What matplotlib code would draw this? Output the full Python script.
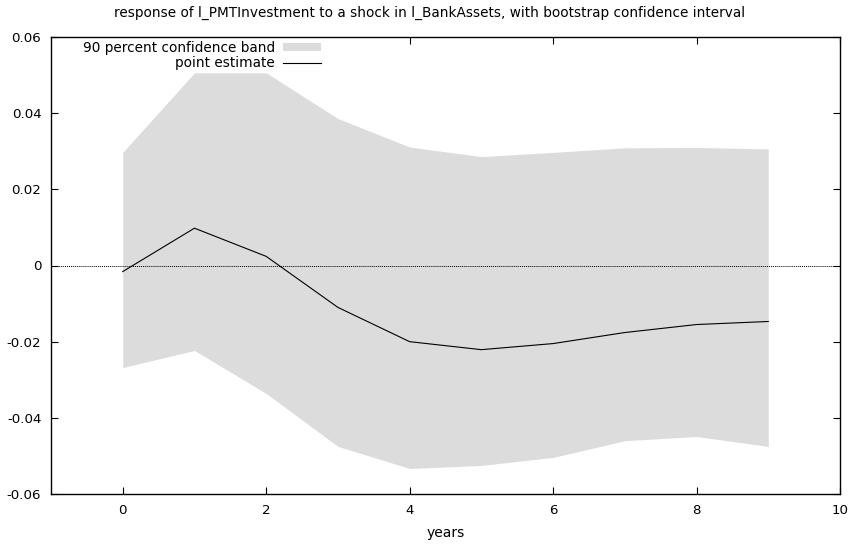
import matplotlib
matplotlib.use("Agg")
import matplotlib.pyplot as plt
from matplotlib.patches import Patch
from matplotlib.lines import Line2D
from matplotlib.ticker import FuncFormatter

# impulse response horizon and bootstrap results
years = [0, 1, 2, 3, 4, 5, 6, 7, 8, 9]
point_estimate = [-0.0016, 0.0098, 0.0024, -0.0110, -0.0200, -0.0221,
                  -0.0205, -0.0176, -0.0155, -0.0147]
band_upper = [0.0297, 0.0506, 0.0506, 0.0386, 0.0311, 0.0286,
              0.0297, 0.0309, 0.0310, 0.0306]
band_lower = [-0.0268, -0.0223, -0.0336, -0.0475, -0.0533, -0.0525,
              -0.0504, -0.0460, -0.0449, -0.0475]

title = "response of l_PMTInvestment to a shock in l_BankAssets, with bootstrap confidence interval"

plt.rcParams['axes.unicode_minus'] = False
plt.rcParams['font.family'] = 'DejaVu Sans'

fig = plt.figure(figsize=(8.59, 5.47), dpi=100)
ax = fig.add_axes([51/859, 53/547, 789/859, 457/547])

band_col = '#dcdcdc'
ax.fill_between(years, band_lower, band_upper, color=band_col, linewidth=0, zorder=1)
ax.plot(years, point_estimate, color='black', linewidth=0.8, zorder=3)
ax.axhline(0, color='black', linewidth=0.7, linestyle=(0, (1, 1)), zorder=2)

ax.set_xlim(-1, 10)
ax.set_ylim(-0.06, 0.06)
ax.set_xticks([0, 2, 4, 6, 8, 10])
ax.set_yticks([-0.06, -0.04, -0.02, 0, 0.02, 0.04, 0.06])
ax.yaxis.set_major_formatter(FuncFormatter(lambda v, p: '%g' % round(v, 4)))
ax.tick_params(direction='in', length=5, width=0.8, top=True, right=True,
               labelsize=9.6, pad=7)
for s in ax.spines.values():
    s.set_linewidth(1.0)
    s.set_zorder(6)

ax.set_xlabel('years', fontsize=10, labelpad=7)
fig.text(0.5, 1 - 13/547, title, ha='center', va='center', fontsize=9.8)

# gnuplot-style key: text on the left, sample on the right
handles = [Patch(facecolor=band_col, edgecolor='none'),
           Line2D([], [], color='black', linewidth=0.8)]
leg = ax.legend(handles, ['90 percent confidence band', 'point estimate'],
                loc='upper left', bbox_to_anchor=(0.035, 1.0), markerfirst=False,
                fontsize=9.8, frameon=True, fancybox=False, borderpad=0.2,
                handlelength=2.8, handleheight=0.5, handletextpad=0.6,
                labelspacing=0.1, borderaxespad=0.1)
leg.get_frame().set_facecolor('white')
leg.get_frame().set_edgecolor('none')
leg.get_frame().set_alpha(1)
for t in leg.get_texts():
    t.set_ha('right')
leg._legend_box.align = 'right'

fig.savefig('out.png', dpi=100)
